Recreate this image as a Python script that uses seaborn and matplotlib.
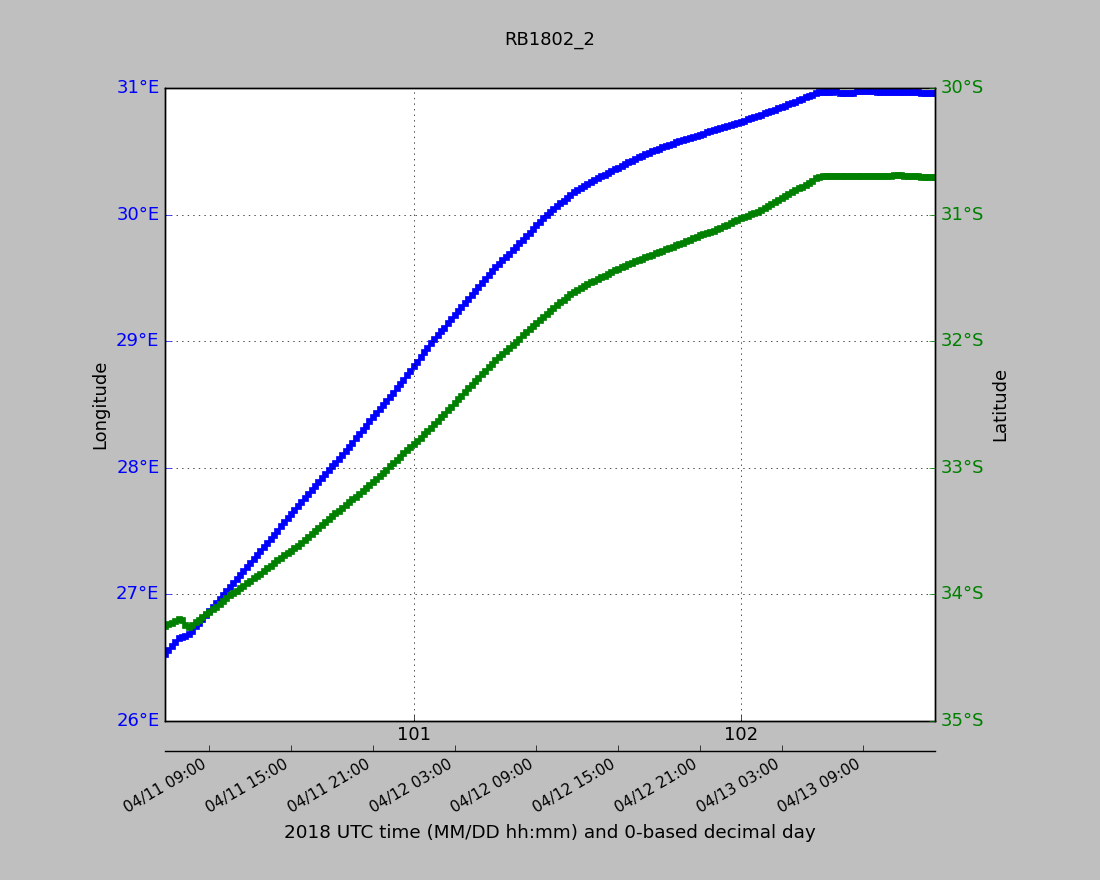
import pandas as pd
import matplotlib
matplotlib.use("Agg")
import matplotlib.pyplot as plt
import matplotlib.dates as mdates
import matplotlib.ticker as mticker
import seaborn as sns

plt.style.use("classic")
plt.rcParams["font.family"] = ["DejaVu Sans"]

# track of drifter RB1802_2, one fix every 15 minutes
start_time = "2018-04-11 05:45"

lon = [26.529, 26.558, 26.589, 26.620, 26.652, 26.661, 26.670, 26.683, 26.707, 26.747,
       26.774, 26.803, 26.837, 26.869, 26.900, 26.932, 26.963, 26.994, 27.025, 27.057,
       27.089, 27.120, 27.152, 27.183, 27.215, 27.248, 27.279, 27.311, 27.342, 27.375,
       27.407, 27.439, 27.471, 27.503, 27.535, 27.567, 27.599, 27.631, 27.663, 27.696,
       27.727, 27.758, 27.791, 27.822, 27.853, 27.885, 27.916, 27.947, 27.979, 28.009,
       28.039, 28.069, 28.099, 28.131, 28.164, 28.198, 28.231, 28.265, 28.298, 28.332,
       28.365, 28.397, 28.430, 28.462, 28.495, 28.528, 28.560, 28.593, 28.626, 28.660,
       28.695, 28.731, 28.766, 28.801, 28.838, 28.876, 28.912, 28.948, 28.983, 29.018,
       29.047, 29.076, 29.107, 29.139, 29.172, 29.204, 29.236, 29.269, 29.301, 29.333,
       29.365, 29.397, 29.430, 29.461, 29.492, 29.523, 29.554, 29.582, 29.610, 29.637,
       29.664, 29.692, 29.719, 29.746, 29.774, 29.801, 29.829, 29.856, 29.886, 29.914,
       29.942, 29.970, 29.996, 30.019, 30.042, 30.065, 30.088, 30.110, 30.132, 30.155,
       30.175, 30.191, 30.207, 30.223, 30.239, 30.255, 30.270, 30.286, 30.301, 30.316,
       30.330, 30.344, 30.358, 30.371, 30.385, 30.399, 30.413, 30.427, 30.441, 30.455,
       30.466, 30.477, 30.488, 30.499, 30.510, 30.520, 30.530, 30.540, 30.550, 30.561,
       30.570, 30.579, 30.588, 30.597, 30.606, 30.613, 30.620, 30.626, 30.639, 30.652,
       30.661, 30.669, 30.677, 30.685, 30.693, 30.701, 30.710, 30.718, 30.726, 30.734,
       30.743, 30.752, 30.762, 30.771, 30.780, 30.789, 30.799, 30.809, 30.819, 30.829,
       30.839, 30.850, 30.861, 30.872, 30.882, 30.893, 30.904, 30.914, 30.925, 30.935,
       30.946, 30.957, 30.965, 30.966, 30.966, 30.966, 30.966, 30.975, 30.964, 30.964,
       30.964, 30.964, 30.964, 30.976, 30.976, 30.976, 30.976, 30.976, 30.976, 30.966,
       30.966, 30.966, 30.966, 30.966, 30.966, 30.966, 30.966, 30.966, 30.966, 30.966,
       30.966, 30.966, 30.958, 30.958, 30.958, 30.958, 30.958]

lat = [-34.250, -34.237, -34.224, -34.209, -34.194, -34.208, -34.247, -34.258, -34.240, -34.222,
       -34.202, -34.177, -34.158, -34.137, -34.117, -34.098, -34.081, -34.054, -34.029, -34.010,
       -33.990, -33.971, -33.951, -33.932, -33.913, -33.894, -33.875, -33.857, -33.838, -33.817,
       -33.796, -33.774, -33.753, -33.731, -33.712, -33.693, -33.674, -33.655, -33.636, -33.617,
       -33.594, -33.571, -33.547, -33.523, -33.500, -33.477, -33.454, -33.430, -33.407, -33.384,
       -33.362, -33.339, -33.317, -33.295, -33.273, -33.251, -33.229, -33.207, -33.185, -33.161,
       -33.138, -33.114, -33.091, -33.068, -33.041, -33.015, -32.989, -32.963, -32.937, -32.913,
       -32.888, -32.864, -32.840, -32.815, -32.789, -32.762, -32.736, -32.710, -32.684, -32.658,
       -32.631, -32.603, -32.576, -32.548, -32.521, -32.490, -32.460, -32.431, -32.403, -32.374,
       -32.346, -32.318, -32.289, -32.261, -32.233, -32.205, -32.178, -32.153, -32.128, -32.104,
       -32.080, -32.055, -32.030, -32.005, -31.980, -31.955, -31.930, -31.905, -31.880, -31.855,
       -31.830, -31.806, -31.783, -31.761, -31.738, -31.716, -31.693, -31.672, -31.651, -31.630,
       -31.611, -31.596, -31.580, -31.565, -31.550, -31.535, -31.522, -31.509, -31.495, -31.482,
       -31.468, -31.455, -31.442, -31.429, -31.416, -31.404, -31.393, -31.382, -31.371, -31.361,
       -31.350, -31.339, -31.328, -31.317, -31.306, -31.296, -31.285, -31.275, -31.264, -31.254,
       -31.243, -31.232, -31.221, -31.210, -31.199, -31.187, -31.175, -31.164, -31.157, -31.149,
       -31.139, -31.127, -31.115, -31.103, -31.091, -31.079, -31.066, -31.054, -31.041, -31.029,
       -31.018, -31.008, -30.997, -30.987, -30.976, -30.961, -30.947, -30.932, -30.917, -30.902,
       -30.886, -30.870, -30.854, -30.838, -30.822, -30.808, -30.794, -30.780, -30.766, -30.751,
       -30.733, -30.715, -30.701, -30.695, -30.695, -30.695, -30.695, -30.695, -30.695, -30.695,
       -30.695, -30.695, -30.695, -30.695, -30.695, -30.695, -30.695, -30.695, -30.695, -30.695,
       -30.695, -30.695, -30.695, -30.695, -30.685, -30.685, -30.685, -30.695, -30.695, -30.695,
       -30.695, -30.695, -30.705, -30.705, -30.705, -30.705, -30.705]

times = pd.date_range(start_time, periods=len(lon), freq="15min")
dday = (times - pd.Timestamp("2018-01-01")) / pd.Timedelta(days=1)
df = pd.DataFrame({"dday": dday, "lon": lon, "lat": lat})

fig = plt.figure(figsize=(11, 8.8), dpi=100, facecolor="0.75")
ax = fig.add_axes([0.15, 0.181, 0.70, 0.719])
ax2 = ax.twinx()
ax3 = ax.twiny()

sns.lineplot(data=df, x="dday", y="lon", ax=ax, color="b", marker="s", markersize=3.7,
             markeredgecolor="b", markeredgewidth=0.5, linewidth=1.2)
sns.lineplot(data=df, x="dday", y="lat", ax=ax2, color="g", marker="s", markersize=3.7,
             markeredgecolor="g", markeredgewidth=0.5, linewidth=1.2)

# decimal day axis
ax.set_xlim(df["dday"].iloc[0], df["dday"].iloc[-1])
ax.xaxis.set_major_locator(mticker.MultipleLocator(1))
ax.xaxis.set_major_formatter(mticker.FormatStrFormatter("%d"))
ax.set_xlabel("")
ax.tick_params(axis="x", labelsize=13)

# longitude
ax.set_ylim(26, 31)
ax.yaxis.set_major_locator(mticker.MultipleLocator(1))
ax.yaxis.set_major_formatter(mticker.FuncFormatter(lambda v, p: f"{v:.0f}°E"))
ax.tick_params(axis="y", colors="b", labelsize=13)
ax.set_ylabel("Longitude", fontsize=13)
ax.grid(True, color="k", linestyle=":", linewidth=0.5)

# latitude
ax2.set_ylim(-35, -30)
ax2.yaxis.set_major_locator(mticker.MultipleLocator(1))
ax2.yaxis.set_major_formatter(mticker.FuncFormatter(lambda v, p: f"{abs(v):.0f}°S"))
ax2.tick_params(axis="y", colors="g", labelsize=13)
ax2.set_ylabel("Latitude", fontsize=13)

# date axis below
ax3.set_xlim(mdates.date2num(times[0].to_pydatetime()), mdates.date2num(times[-1].to_pydatetime()))
ax3.xaxis.set_ticks_position("bottom")
ax3.xaxis.set_label_position("bottom")
ax3.spines["bottom"].set_position(("outward", 21.6))
for s in ["top", "left", "right"]:
    ax3.spines[s].set_visible(False)
ax3.xaxis.set_major_locator(mdates.HourLocator(byhour=[3, 9, 15, 21]))
ax3.xaxis.set_major_formatter(mdates.DateFormatter("%m/%d %H:%M"))
for lbl in ax3.get_xticklabels():
    lbl.set_rotation(30)
    lbl.set_ha("right")
    lbl.set_fontsize(11)
ax3.set_xlabel("2018 UTC time (MM/DD hh:mm) and 0-based decimal day", fontsize=13.2, labelpad=6)

fig.text(0.5, 0.9545, "RB1802_2", ha="center", va="center", fontsize=13)

fig.savefig("out.png", dpi=100, facecolor=fig.get_facecolor())
